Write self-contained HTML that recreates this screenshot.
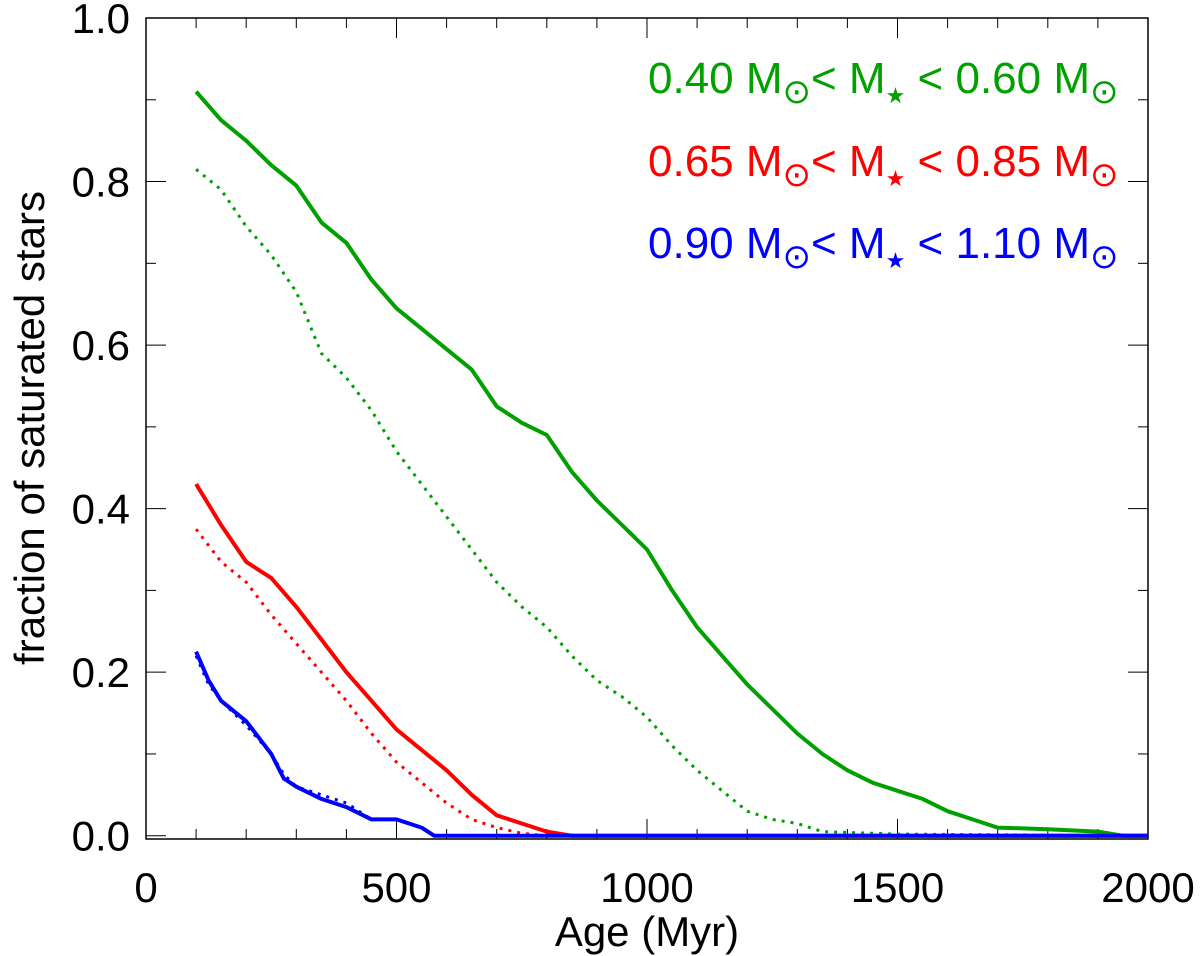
<!DOCTYPE html>
<html><head><meta charset="utf-8"><style>
body{margin:0;background:#fff}
svg{display:block;font-family:"Liberation Sans",Arial,sans-serif}
</style></head><body>
<svg id="chart" width="1200" height="956" viewBox="0 0 1200 956">
<g id="axes"></g>
<g id="series"></g>
<text x="647" y="946" font-size="42" text-anchor="middle">Age (Myr)</text>
<text transform="translate(44,428) rotate(-90)" font-size="42" text-anchor="middle">fraction of saturated stars</text>
<g font-size="44">
<text x="648" y="93" fill="#00a000">0.40 M<tspan font-size="34" dy="10" font-family="DejaVu Sans">⊙</tspan><tspan dy="-10">&lt; M</tspan><tspan font-size="22" dy="10">★</tspan><tspan dy="-10"> &lt; 0.60 M</tspan><tspan font-size="34" dy="10" font-family="DejaVu Sans">⊙</tspan></text>
<text x="648" y="176" fill="#ff0000">0.65 M<tspan font-size="34" dy="10" font-family="DejaVu Sans">⊙</tspan><tspan dy="-10">&lt; M</tspan><tspan font-size="22" dy="10">★</tspan><tspan dy="-10"> &lt; 0.85 M</tspan><tspan font-size="34" dy="10" font-family="DejaVu Sans">⊙</tspan></text>
<text x="648" y="258" fill="#0000ff">0.90 M<tspan font-size="34" dy="10" font-family="DejaVu Sans">⊙</tspan><tspan dy="-10">&lt; M</tspan><tspan font-size="22" dy="10">★</tspan><tspan dy="-10"> &lt; 1.10 M</tspan><tspan font-size="34" dy="10" font-family="DejaVu Sans">⊙</tspan></text>
</g>
</svg>
<script>
const xTicks=[0,500,1000,1500,2000];
const yTicks=[0.0,0.2,0.4,0.6,0.8,1.0];
const yTickLabels=["0.0","0.2","0.4","0.6","0.8","1.0"];
const greenSolidX=[100,150,200,250,300,350,400,450,500,550,600,650,700,750,800,850,900,950,1000,1050,1100,1150,1200,1250,1300,1350,1400,1450,1500,1550,1600,1650,1700,1800,1900,1950,2000];
const greenSolidY=[0.91,0.875,0.85,0.82,0.795,0.75,0.725,0.68,0.645,0.62,0.595,0.57,0.525,0.505,0.49,0.445,0.41,0.38,0.35,0.30,0.255,0.22,0.185,0.155,0.125,0.10,0.08,0.065,0.055,0.045,0.03,0.02,0.01,0.008,0.005,0.0,0.0];
const greenDotX=[100,150,200,250,300,350,400,450,500,550,600,650,700,750,800,850,900,950,1000,1050,1100,1150,1200,1250,1300,1350,1500,2000];
const greenDotY=[0.815,0.79,0.745,0.71,0.665,0.59,0.56,0.52,0.47,0.43,0.39,0.35,0.31,0.28,0.255,0.22,0.19,0.17,0.145,0.11,0.08,0.055,0.03,0.02,0.015,0.005,0.002,0.0];
const redSolidX=[100,150,200,250,300,350,400,450,500,550,600,650,700,750,800,850,2000];
const redSolidY=[0.43,0.38,0.335,0.315,0.28,0.24,0.20,0.165,0.13,0.105,0.08,0.05,0.025,0.015,0.005,0.0,0.0];
const redDotX=[100,150,200,250,300,350,400,450,500,550,600,650,700,750,800,2000];
const redDotY=[0.375,0.335,0.31,0.27,0.235,0.20,0.165,0.125,0.09,0.065,0.04,0.02,0.01,0.003,0.0,0.0];
const blueSolidX=[100,125,150,200,250,275,300,350,400,450,500,550,575,2000];
const blueSolidY=[0.225,0.19,0.165,0.14,0.10,0.07,0.06,0.045,0.035,0.02,0.02,0.01,0.0,0.0];
const blueDotX=[100,125,150,200,250,275,300,350,400,450,500,550,575,2000];
const blueDotY=[0.22,0.185,0.165,0.135,0.10,0.075,0.06,0.05,0.04,0.02,0.02,0.01,0.0,0.0];

const L=146,R=1148,T=18,B=839;
const xs=v=>L+(v/2000)*(R-L);
const ys=v=>B-(v+0.004)/1.004*(B-T);
const NS="http://www.w3.org/2000/svg";
const ax=document.getElementById('axes');
function mk(tag,attrs,parent){const e=document.createElementNS(NS,tag);for(const k in attrs)e.setAttribute(k,attrs[k]);parent.appendChild(e);return e;}
const frame=mk('rect',{x:L,y:T,width:R-L,height:B-T,fill:'none',stroke:'#000','stroke-width':1.5},ax);


for(let v=0;v<=2000;v+=100){
  const len=(v%500===0)?20:10;
  const t1=mk('line',{x1:xs(v),x2:xs(v),y1:B,y2:B-len,stroke:'#000','stroke-width':1},ax);
  
  
  const t2=mk('line',{x1:xs(v),x2:xs(v),y1:T,y2:T+len,stroke:'#000','stroke-width':1},ax);
  
  
}
for(let i=0;i<=10;i++){
  const v=i/10;const len=(i%2===0)?20:10;
  const t1=mk('line',{x1:L,x2:L+len,y1:ys(v),y2:ys(v),stroke:'#000','stroke-width':1},ax);
  
  
  const t2=mk('line',{x1:R,x2:R-len,y1:ys(v),y2:ys(v),stroke:'#000','stroke-width':1},ax);
  
  
}
xTicks.forEach(v=>{
  const t=mk('text',{x:xs(v),y:902,'font-size':42,'text-anchor':'middle'},ax);
  
  
  t.textContent=String(v);
});
yTicks.forEach((v,i)=>{
  const t=mk('text',{x:130,y:ys(v)+15,'font-size':42,'text-anchor':'end'},ax);
  
  
  t.textContent=yTickLabels[i];
});
const sg=document.getElementById('series');
function line(X,Y,color,dotted,name){
  const pts=X.map((x,i)=>xs(x).toFixed(1)+','+ys(Y[i]).toFixed(1)).join(' ');
  const p=mk('polyline',{points:pts,fill:'none',stroke:color,'stroke-width':dotted?3:4,'stroke-linejoin':'round'},sg);
  if(dotted)p.setAttribute('stroke-dasharray','3,6');
  
  
}
line(greenDotX,greenDotY,'#00a000',true,'green-dotted-line');
line(redDotX,redDotY,'#ff0000',true,'red-dotted-line');
line(blueDotX,blueDotY,'#0000ff',true,'blue-dotted-line');
line(greenSolidX,greenSolidY,'#00a000',false,'green-solid-line');
line(redSolidX,redSolidY,'#ff0000',false,'red-solid-line');
line(blueSolidX,blueSolidY,'#0000ff',false,'blue-solid-line');
</script>
</body></html>
